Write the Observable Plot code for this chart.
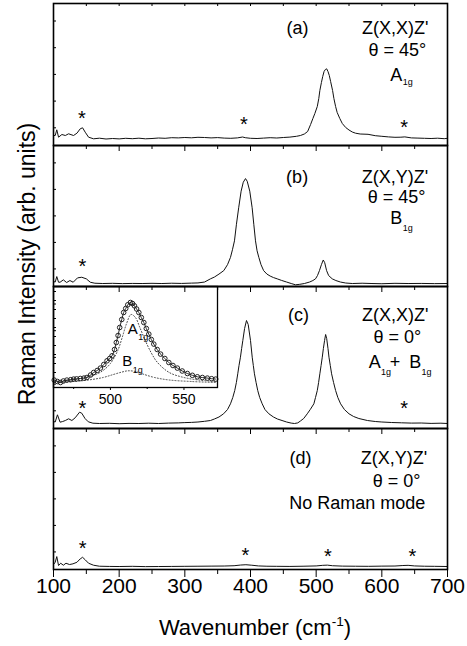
<!DOCTYPE html>
<html><head><meta charset="utf-8">
<script src="https://cdn.jsdelivr.net/npm/d3@7"></script>
<script src="https://cdn.jsdelivr.net/npm/@observablehq/plot@0.6"></script>
<style>
body{margin:0;background:#fff;font-family:"Liberation Sans",Arial,sans-serif;color:#000;}
#wrap{position:relative;width:467px;height:646px;overflow:hidden;background:#fff;}
.ttl{position:absolute;white-space:nowrap;line-height:1;}
</style></head><body><div id="wrap"></div>
<script>
// ---- data: [wavenumber (cm^-1), intensity (arb.)] ----
const specA = [[100,10],[102.6,10],[105,15.7],[107.7,8.3],[112.8,11],[118,10],[123,11.7],[130.5,10],[135.7,12.3],[140.7,16.7],[144.3,17.7],[148.3,13.3],[153.4,8.3],[161,6.7],[170,7.3],[180,6.5],[190,7],[200,6.6],[210,7.2],[220,6.8],[230,7.3],[240,6.7],[250,7],[260,7.5],[270,7.2],[280,7.8],[290,7.6],[300,8],[310,7.7],[320,8.2],[330,8],[340,7.6],[350,7.9],[360,7.4],[370,7.2],[380,7.6],[388,8.5],[392,7.8],[400,7.2],[410,7],[420,7.4],[430,7.8],[440,7.5],[450,8],[460,8.4],[470,9.2],[476,10],[482,11.5],[487,14],[491.5,21],[495,27],[498,32],[501.7,39],[504,47],[505.6,55],[508,63],[510,69],[512,74],[514,76],[516,76.7],[518,74],[520,70],[522,64],[525,55],[527,47],[529.6,39],[532,33],[536,27],[539.8,22],[545,18],[550,15.5],[555,13.5],[560,12.3],[567,11.5],[579,11.2],[590,9.8],[600,9.2],[610,8.6],[620,8.2],[629,8.3],[635,8.6],[645,7.6],[655,7.4],[665,7.2],[675,7],[685,7.3],[695,6.8],[700,7.2]];
const specB = [[100,5],[102.6,4.5],[105,10],[107.7,4.3],[110,4.3],[115,6.7],[120,4],[125,6],[130,4.3],[136.6,8.7],[143,9.3],[150,7.7],[156,4.3],[163,3.3],[175,3],[190,3.2],[205,2.9],[220,3.1],[235,3],[250,3.2],[265,3],[280,3.3],[295,3.1],[310,3.4],[320,3.6],[330,4.5],[339,7.7],[345,9.5],[352,12.5],[359.3,16],[365,22],[369.5,29.3],[372.5,37],[375.6,46],[378.6,62.7],[382,79.3],[385.7,96],[389,105],[392.4,108.7],[395,106],[398.9,96],[402.5,79.3],[405,62.7],[407.6,46],[410,36],[412.7,29.3],[416,22],[420,16],[425,12.5],[430,10.5],[435,9],[440.7,7.7],[447,6.2],[455,4.5],[462,3],[468.6,1.7],[475,2.2],[482,3],[490,4.5],[495,6],[499,7.7],[502,11],[505,16],[508,22],[510.8,26.7],[513,24],[515.9,16],[519,11],[524.5,7.7],[530,6],[537,4.5],[545,3.5],[555,3],[570,3.3],[585,3],[600,2.8],[620,3.2],[640,3],[660,3.1],[680,2.9],[700,3]];
const specC = [[100,7],[102.6,6.5],[106,13.7],[110,6.3],[114,7],[118,8],[123,9.7],[128,8],[133,10.7],[139.7,16.3],[143,15.3],[148,10],[153,6.7],[160,5.3],[170,5],[185,5.2],[200,4.8],[215,5.1],[230,5],[245,5.3],[260,5],[275,5.4],[290,5.6],[300,5.9],[310,6.1],[320,6.5],[330,7.2],[339,8],[345,9.5],[352,11.5],[359,14.7],[365,19],[369.5,24.7],[373,31],[376,38],[378.5,46],[380.6,54.7],[382.5,63],[384.7,71.3],[386.5,80],[388.3,88],[391,100],[393.9,108],[396.5,104],[400,88],[402.6,71.3],[404.3,63],[406,54.7],[408.5,46],[411,38],[414,31],[417.8,24.7],[422,19],[428,14.7],[435,11.5],[441,9.5],[448,8],[455,6.5],[462,5.4],[467,5],[472,5.6],[476,7.5],[481,10],[486.4,14.7],[491,19],[496.5,24.7],[499,31],[501.7,38],[503.7,46],[505.6,54.7],[507.5,63],[509.3,71.3],[511,80],[512.8,88],[514.4,94],[516,90],[518,80],[519.5,71.3],[521.5,63],[523.5,54.7],[526.5,46],[529.6,38],[533,31],[537.2,24.7],[543,19],[550,14.7],[557,12],[565,10],[578,8],[590,7],[600,6.5],[615,6],[630,5.7],[645,5.4],[660,5.5],[675,5.1],[690,5.3],[700,5]];
const specD = [[100,5],[102.6,7.3],[105,13],[107.7,4],[111,6.3],[115,4.3],[119,6.3],[124.4,5],[129.6,5.7],[135.7,7.3],[140.7,10.7],[144.3,12.3],[148.4,9.7],[153.4,6.3],[161,4.3],[170,3.3],[185,3.1],[200,3],[220,3.2],[240,2.9],[260,3],[280,3.1],[300,3.2],[320,3.3],[340,3.4],[360,3.5],[375,3.8],[385,4.5],[393,4.8],[402,4.3],[412,3.6],[425,3.3],[440,3.2],[460,3.1],[480,3.3],[500,3.6],[510,4.2],[517,4.4],[525,3.8],[540,3.4],[560,3.3],[580,3.2],[600,3.4],[620,3.5],[632,4],[640,4.2],[650,3.6],[665,3.3],[680,3.2],[700,3]];

// asterisks (wavenumber, height)
const starsA = [[143.3,26.7],[389.8,21],[633.8,17.7]];
const starsB = [[144,20]];
const starsC = [[144,19.7],[634,19.7]];
const starsD = [[144.3,20.7],[392.3,14],[517.9,13],[646.6,13]];

// panel labels: centred text, text ending at x, subscripts starting at x
const centerA = [[471.6,117,"(a)"],[620.3,117,"Z(X,X)Z'"],[623.6,95,"θ = 45°"]];
const endA = [[631.3,70,"A"]];
const subA = [[631.8,63,"1g"]];
const centerB = [[471,110,"(b)"],[620,110,"Z(X,Y)Z'"],[622.6,90,"θ = 45°"]];
const endB = [[631.3,69,"B"]];
const subB = [[631.8,59,"1g"]];
const centerC = [[473,113,"(c)"],[620.3,113,"Z(X,X)Z'"],[623.6,91,"θ = 0°"],[620,66,"+"]];
const endC = [[598.2,66,"A"],[660,66,"B"]];
const subC = [[598.7,56.5,"1g"],[660.5,56.5,"1g"]];
const centerD = [[476,112,"(d)"],[618.6,112,"Z(X,Y)Z'"],[622.4,89,"θ = 0°"],[562.7,67,"No Raman mode"]];

// inset: measured points (circles) and fitted components
const insetData = [[461.8,7.4],[464,6],[466,5],[468,6.5],[470.4,7.4],[473,7.8],[475,8.4],[477,8.6],[479.5,9],[482,9.4],[484,10],[486.5,12.5],[488.6,15],[491,17],[493.2,19.4],[495.5,23],[497.7,26.7],[499.5,29],[501.1,31.7],[502.8,38],[504,45],[505.2,52],[506.3,60],[507.7,68],[509,75],[510.4,79],[511.8,82.7],[513.6,85],[515,84],[516.3,81.7],[517.8,78.5],[519.3,75],[521,70],[522.7,65],[524.4,59],[526.1,53.4],[527.8,48],[529.5,43.4],[531.8,38],[534.1,33.4],[537,29],[539.7,25],[542.5,22],[545.5,19.4],[548.8,16.5],[552.3,14],[555.7,12.2],[559.1,10.7],[562.5,10],[565.9,9.4],[568.8,8.8],[571.6,8.4]];
const insetA1g = [[462,6],[470,7],[480,9],[490,13],[495,17],[500,24],[505,37],[508,50],[511,64],[514,73],[517,70],[520,60],[524,46],[528,34],[532,25],[540,15],[550,10],[560,7.5],[572,6]];
const insetB1g = [[462,5],[475,6],[485,7.5],[495,10],[502,13],[508,15.5],[512,16.7],[517,16],[522,13.5],[530,10],[540,7.5],[555,6],[572,5]];
const insetEnd = [[518.6,58.4,"A"],[514.8,26.7,"B"]];
const insetSub = [[519,50.7,"1g"],[515.2,17.4,"1g"]];

const majorX = [100,200,300,400,500,600,700];
const minorX = [150,250,350,450,550,650];
const yTicks = [17.7,44.4,71.1,97.8,124.5];
const insetMajor = [500,550];
const insetMinor = [475,525];
const insetYTicks = [15,24,33,42,51,60,69,78,87,96];

// ---- drawing ----
const FONT = '"Liberation Sans", Arial, Helvetica, sans-serif';
const wrap = document.getElementById("wrap");
const W = 467, ML = 53, MR = 20;
const px = d => d[0], py = d => d[1], pt = d => d[2];
const blank = () => "";

const panels = [
  {key:"a", top:3, bottom:145, spec:specA, stars:starsA, center:centerA, end:endA, sub:subA},
  {key:"b", top:145, bottom:286, spec:specB, stars:starsB, center:centerB, end:endB, sub:subB},
  {key:"c", top:286, bottom:428, spec:specC, stars:starsC, center:centerC, end:endC, sub:subC},
  {key:"d", top:428, bottom:569, spec:specD, stars:starsD, center:centerD, end:[], sub:[]}
];

panels.forEach((p, i) => {
  const last = i === panels.length - 1;
  const inner = p.bottom - p.top;
  const mb = last ? 646 - p.bottom : 12;
  const marks = [
    Plot.axisY({ticks: yTicks, tickSize: -3, tickFormat: blank, label: null}),
    Plot.axisX({ticks: majorX, tickSize: last ? 8 : 6, tickPadding: 1, tickFormat: last ? (d => d) : blank, label: null, fontSize: 21}),
    Plot.axisX({ticks: minorX, tickSize: last ? 5 : 4, tickFormat: blank, label: null}),
    Plot.line(p.spec, {x: px, y: py, stroke: "#111", strokeWidth: 1}),
    Plot.text(p.stars, {x: px, y: py, text: () => "*", fontSize: 20, fill: "#000"}),
    Plot.text(p.center, {x: px, y: py, text: pt, fontSize: 18, fill: "#000"}),
    Plot.text(p.end, {x: px, y: py, text: pt, fontSize: 18, textAnchor: "end", fill: "#000"}),
    Plot.text(p.sub, {x: px, y: py, text: pt, fontSize: 9, textAnchor: "start", fill: "#000"}),
    Plot.frame({stroke: "#000", strokeWidth: 1.6})
  ];
  if (p.key === "a") marks.push(Plot.axisX({anchor: "top", ticks: majorX.concat(minorX), tickSize: -2, tickFormat: blank, label: null}));
  const svg = Plot.plot({
    width: W, height: inner + mb,
    marginLeft: ML, marginRight: MR, marginTop: 0, marginBottom: mb,
    x: {domain: [100, 700]}, y: {domain: [0, 142]},
    style: {background: "none", overflow: "visible", fontFamily: FONT, color: "#000"},
    marks
  });
  svg.style.position = "absolute"; svg.style.left = "0px"; svg.style.top = p.top + "px";
  wrap.appendChild(svg);
});

// inset in panel (c)
const inset = Plot.plot({
  width: 164, height: 101 + 22,
  marginLeft: 0, marginRight: 0, marginTop: 0, marginBottom: 22,
  x: {domain: [461.3, 572.8]}, y: {domain: [0, 101]},
  style: {background: "none", overflow: "visible", fontFamily: FONT, color: "#000"},
  marks: [
    Plot.axisY({ticks: insetYTicks, tickSize: -3, tickFormat: blank, label: null}),
    Plot.axisX({ticks: insetMajor, tickSize: 3, tickPadding: 3.5, label: null, fontSize: 14}),
    Plot.axisX({ticks: insetMinor, tickSize: 2, tickFormat: blank, label: null}),
    Plot.line(insetA1g, {x: px, y: py, curve: "catmull-rom", stroke: "#444", strokeWidth: 1, strokeDasharray: "1,2"}),
    Plot.line(insetB1g, {x: px, y: py, curve: "catmull-rom", stroke: "#444", strokeWidth: 1, strokeDasharray: "1,2"}),
    Plot.line(insetData, {x: px, y: py, curve: "catmull-rom", stroke: "#111", strokeWidth: 0.9}),
    Plot.dot(insetData, {x: px, y: py, r: 2.3, stroke: "#222", strokeWidth: 1, fill: "none"}),
    Plot.text(insetEnd, {x: px, y: py, text: pt, fontSize: 15, textAnchor: "end", fill: "#000"}),
    Plot.text(insetSub, {x: px, y: py, text: pt, fontSize: 9, textAnchor: "start", fill: "#000"}),
    Plot.frame({stroke: "#000", strokeWidth: 1.3})
  ]
});
inset.style.position = "absolute"; inset.style.left = "53px"; inset.style.top = "286px";
wrap.appendChild(inset);

// axis titles
const yt = document.createElement("div");
yt.className = "ttl";
yt.style.cssText += "left:27px;top:264px;font-size:23px;transform:translate(-50%,-50%) rotate(-90deg);";
yt.textContent = "Raman Intensity (arb. units)";
wrap.appendChild(yt);
const xt = document.createElement("div");
xt.className = "ttl";
xt.style.cssText += "left:255px;top:627px;font-size:22px;transform:translate(-50%,-50%);";
xt.innerHTML = "Wavenumber (cm<sup style=\"font-size:0.62em;vertical-align:0.7em\">-1</sup>)";
wrap.appendChild(xt);
</script></body></html>
